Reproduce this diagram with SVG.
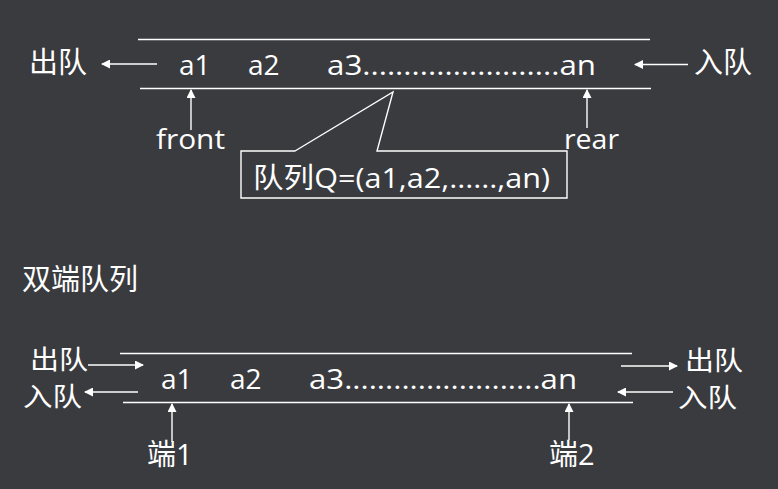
<svg xmlns="http://www.w3.org/2000/svg" width="778" height="489" viewBox="0 0 778 489">
<defs>
<marker id="ah" viewBox="0 0 9 9" refX="8" refY="4.5" markerWidth="9" markerHeight="9" markerUnits="userSpaceOnUse" orient="auto">
<path d="M0,0 L9,4.5 L0,9 z" fill="#ffffff"/>
</marker>
<style>
.t{font-family:"Open Sans","Noto Sans CJK SC",sans-serif;font-size:28px;fill:#ffffff}
.c{font-family:"Noto Sans CJK SC",sans-serif;font-size:29px;fill:#ffffff}
.s{font-family:"Noto Sans CJK SC",sans-serif;font-size:26px;fill:#ffffff}
.ln{stroke:#ffffff;stroke-width:1.4;fill:none}
.ar{stroke:#ffffff;stroke-width:1.4;fill:none;marker-end:url(#ah)}
</style>
</defs>
<rect width="778" height="489" fill="#3a3b3f"/>

<g id="queue">
<line class="ln" x1="138" y1="39.5" x2="650" y2="39.5"/>
<line class="ln" x1="140" y1="88.5" x2="651" y2="88.5"/>
<text class="t" x="179" y="75">a1</text>
<text class="t" x="248" y="75">a2</text>
<text class="t" x="327" y="75" textLength="269" lengthAdjust="spacingAndGlyphs">a3........................an</text>
</g>
<g id="dequeue-left"><text class="c" x="29" y="73">出队</text></g>
<g id="enqueue-right"><text class="c" x="694" y="73">入队</text></g>
<g id="front"><text class="t" x="156" y="149" textLength="69" lengthAdjust="spacingAndGlyphs">front</text></g>
<g id="rear"><text class="t" x="564" y="149" textLength="55" lengthAdjust="spacingAndGlyphs">rear</text></g>
<g id="callout">
<path class="ln" d="M295,151 L393,92 L377,151 L567,151 L567,198 L241,198 L241,151 Z"/>
<text class="t" x="253" y="188" textLength="297" lengthAdjust="spacingAndGlyphs">队列Q=(a1,a2,......,an)</text>
</g>

<g id="title"><text class="c" x="22" y="290">双端队列</text></g>

<g id="deque">
<line class="ln" x1="120" y1="353.5" x2="632" y2="353.5"/>
<line class="ln" x1="123" y1="402.5" x2="633" y2="402.5"/>
<text class="t" x="161" y="389">a1</text>
<text class="t" x="230" y="389">a2</text>
<text class="t" x="309" y="389" textLength="268" lengthAdjust="spacingAndGlyphs">a3........................an</text>
</g>
<g id="left-out"><text class="s" x="30" y="369" textLength="58" lengthAdjust="spacingAndGlyphs">出队</text></g>
<g id="left-in"><text class="s" x="23" y="406" textLength="59" lengthAdjust="spacingAndGlyphs">入队</text></g>
<g id="right-out"><text class="s" x="685" y="370" textLength="58" lengthAdjust="spacingAndGlyphs">出队</text></g>
<g id="right-in"><text class="s" x="678" y="407" textLength="59" lengthAdjust="spacingAndGlyphs">入队</text></g>
<g id="end1"><text class="c" x="147" y="465">端<tspan font-family="Open Sans">1</tspan></text></g>
<g id="end2"><text class="c" x="549" y="465">端<tspan font-family="Open Sans">2</tspan></text></g>

<g id="connectors">
<line class="ar" x1="157" y1="64" x2="102" y2="64"/>
<line class="ar" x1="688" y1="64.5" x2="635" y2="64.5"/>
<line class="ar" x1="191" y1="130" x2="191" y2="90"/>
<line class="ar" x1="587" y1="128" x2="587" y2="90"/>
<line class="ar" x1="88" y1="365" x2="143" y2="365"/>
<line class="ar" x1="138" y1="392" x2="85" y2="392"/>
<line class="ar" x1="621" y1="366" x2="677" y2="366"/>
<line class="ar" x1="673" y1="392" x2="618" y2="392"/>
<line class="ar" x1="172" y1="442" x2="172" y2="404"/>
<line class="ar" x1="569" y1="440" x2="569" y2="404"/>
</g>
</svg>
